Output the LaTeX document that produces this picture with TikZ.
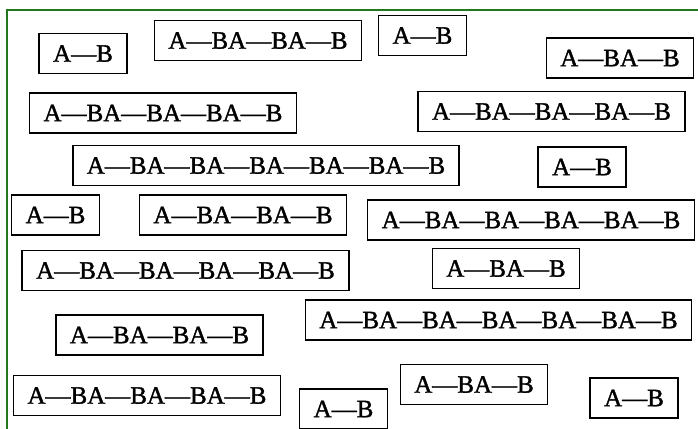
\documentclass[tikz,border=0pt]{standalone}
\usepackage{fontspec}
\setmainfont{Liberation Serif}[BoldFont={Liberation Serif},BoldFeatures={FakeBold=1.4}]
\usepackage{xcolor}
\usepackage{tikz}
\usetikzlibrary{positioning}
\definecolor{framegreen}{RGB}{35,120,25}
\tikzset{
  chainbox/.style={rectangle,draw,line width=1.5pt,minimum height=40pt,inner xsep=14pt,inner ysep=2pt,font=\fontsize{25}{28}\selectfont\bfseries}
}
\begin{document}
\begin{tikzpicture}[x=1pt,y=-1pt]
    \useasboundingbox (0,0) rectangle (698,428);
    \draw[framegreen,line width=1.6pt] (7,440) |- (710,10);

    \foreach \x/\y/\txt/\id in {83/53.5/A—B/a,258/40.5/A—BA—BA—B/b,422.5/35.5/A—B/c,620/58/A—BA—B/d,
        163/113/A—BA—BA—BA—B/e,551.5/111.5/A—BA—BA—BA—B/f,
        266/165.5/A—BA—BA—BA—BA—BA—B/g,582/167/A—B/h,
        55.5/215/A—B/i,243/215/A—BA—BA—B/j,531/220/A—BA—BA—BA—BA—B/k,
        185.5/270.5/A—BA—BA—BA—BA—B/l,506/268.5/A—BA—B/m,
        159.5/335/A—BA—BA—B/n,498.5/320/A—BA—BA—BA—BA—BA—B/o,
        147/395.5/A—BA—BA—BA—B/p,343.5/409/A—B/q,474/384.5/A—BA—B/r,634/398/A—B/s}
        \node[chainbox] (box\id) at (\x,\y) {\txt};
\end{tikzpicture}
\end{document}
